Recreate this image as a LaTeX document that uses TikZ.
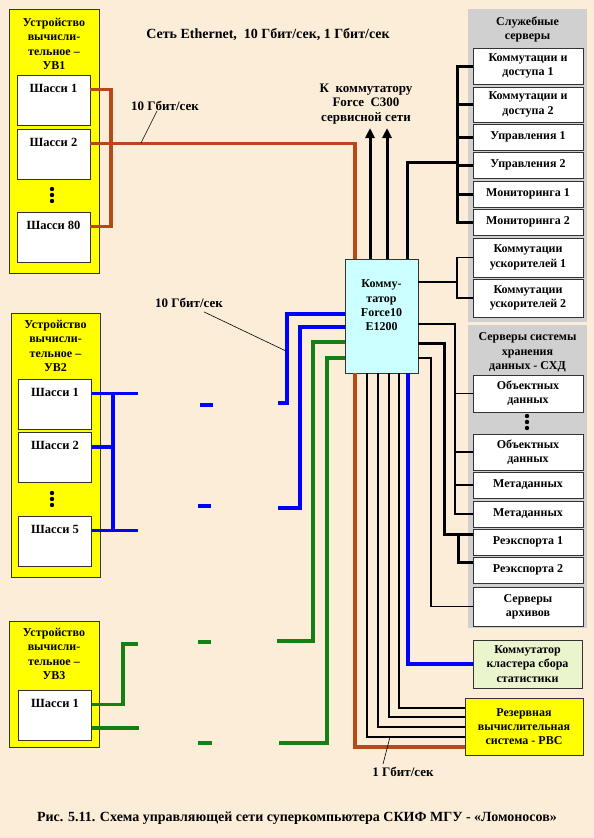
\documentclass[tikz,border=0pt]{standalone}
\usepackage{fontspec}
\setmainfont{Liberation Serif}
\usepackage{tikz}
\usetikzlibrary{arrows.meta}
\definecolor{bgpeach}  {RGB}{252,237,216}
\definecolor{pgray}    {RGB}{208,208,208}
\definecolor{kbrown}   {RGB}{184,72,24}
\definecolor{kblue}    {RGB}{0,0,255}
\definecolor{kgreen}   {RGB}{20,128,20}
\definecolor{scyan}    {RGB}{204,255,255}
\definecolor{sgreen}   {RGB}{235,245,205}
\definecolor{uyellow}  {RGB}{255,255,0}
\tikzset{
    txt/.style={font=\bfseries\fontsize{12}{14.3}\selectfont, align=center, inner sep=0pt},
    bigtxt/.style={font=\bfseries\fontsize{14}{16}\selectfont, align=center, inner sep=0pt},
    rate/.style={font=\bfseries\fontsize{13}{15}\selectfont, inner sep=0pt},
    unit/.style={draw=black!80, fill=uyellow, line width=0.8pt},
    chassis/.style={draw=black!80, fill=white, line width=0.8pt, inner sep=0pt,
             minimum width=73pt, text height=17pt, text depth=33pt,
             font=\bfseries\fontsize{12.5}{14.3}\selectfont},
    server/.style={draw=black!80, fill=white, line width=0.8pt, minimum width=110pt,
             minimum height=26pt, inner sep=1pt, align=center,
             font=\bfseries\fontsize{12}{14.3}\selectfont},
    panel/.style={fill=pgray, inner sep=0pt},
    tengig/.style={draw=kbrown, line width=3.5pt},
    bluelink/.style={draw=kblue, line width=3.5pt},
    greenlink/.style={draw=kgreen, line width=3.5pt},
    svclink/.style={draw=black, line width=3pt},
    gig/.style={draw=black, line width=1.3pt},
    upline/.style={draw=black, line width=3pt, -{Triangle[width=9pt,length=10pt]}},
    leader/.style={draw=black, line width=0.6pt}
  }

\begin{document}
\begin{tikzpicture}[x=1pt,y=-1pt]
 \useasboundingbox (0,0) rectangle (594,838);
 \fill[bgpeach] (0,0) rectangle (594,838);
 %Title
     \node[bigtxt] (title) at (268,35) {Сеть Ethernet,\ \ 10 Гбит/сек, 1 Гбит/сек};
 %UV1
     \node[unit, minimum width=90pt, minimum height=264pt] (uv1) at (54,141) {};
     \node[txt, anchor=north] (uv1t) at (54,18) {Устройство\\вычисли-\\тельное –\\УВ1};
     \node[chassis] (uv1c1) at (53.5,100) {Шасси 1};
     \node[chassis] (uv1c2) at (53.5,154) {Шасси 2};
     \node[chassis] (uv1c3) at (53.5,237) {Шасси 80};
     \foreach \y in {189,195,201} \fill (52,\y) circle (2.2pt);
 %UV2
     \node[unit, minimum width=89pt, minimum height=264pt] (uv2) at (55.5,445) {};
     \node[txt, anchor=north] (uv2t) at (55.5,320) {Устройство\\вычисли-\\тельное –\\УВ2};
     \node[chassis] (uv2c1) at (55,404) {Шасси 1};
     \node[chassis] (uv2c2) at (55,457.5) {Шасси 2};
     \node[chassis] (uv2c3) at (55,541) {Шасси 5};
     \foreach \y in {493,499,505} \fill (52,\y) circle (2.2pt);
 %UV3
     \node[unit, minimum width=90pt, minimum height=126pt] (uv3) at (54,684) {};
     \node[txt, anchor=north] (uv3t) at (54,628) {Устройство\\вычисли-\\тельное –\\УВ3};
     \node[chassis] (uv3c1) at (55,715) {Шасси 1};
 %Switch Force10
     \node[draw=black!80, fill=scyan, line width=0.8pt, minimum width=73pt, minimum height=114pt] (sw) at (381.5,316) {};
     \node[txt] (swt) at (381.5,305.5) {Комму-\\татор\\Force10\\E1200};
     \node[txt, font=\bfseries\fontsize{13}{14.3}\selectfont] (c300) at (366,104) {К\ \ коммутатору\\Force\ \ C300\\сервисной сети};
 %Service servers
     \node[panel, minimum width=119pt, minimum height=313pt] (svcp) at (527.5,165.5) {};
     \node[txt] (svcpt) at (527.5,29.5) {Служебные\\серверы};
     \node[server, minimum height=36pt] (svc1) at (528,66) {Коммутации и\\доступа 1};
     \node[server, minimum height=35pt] (svc2) at (528,104.5) {Коммутации и\\доступа 2};
     \node[server] (svc3) at (528,137) {Управления 1};
     \node[server] (svc4) at (528,165) {Управления 2};
     \node[server] (svc5) at (528,194) {Мониторинга 1};
     \node[server] (svc6) at (528,222) {Мониторинга 2};
     \node[server, minimum height=39pt] (acc1) at (528,257.5) {Коммутации\\ускорителей 1};
     \node[server, minimum height=38pt] (acc2) at (528,298) {Коммутации\\ускорителей 2};
 %Storage servers
     \node[panel, minimum width=119pt, minimum height=303pt] (sxdp) at (527.5,476.5) {};
     \node[txt] (sxdpt) at (527.5,352.5) {Серверы системы\\хранения\\данных - СХД};
     \node[server, minimum height=37pt] (obj1) at (528,393.5) {Объектных\\данных};
     \foreach \y in {416,422,428} \fill (527,\y) circle (2.2pt);
     \node[server, minimum height=36pt] (obj2) at (528,452) {Объектных\\данных};
     \node[server] (md1) at (528,485) {Метаданных};
     \node[server] (md2) at (528,514) {Метаданных};
     \node[server] (rex1) at (528,542) {Реэкспорта 1};
     \node[server] (rex2) at (528,570) {Реэкспорта 2};
     \node[server, minimum height=39pt] (arc) at (528,606.5) {Серверы\\архивов};
 %Statistics and RVS
     \node[server, fill=sgreen, minimum width=109pt, minimum height=48pt] (stat) at (527.5,664) {Коммутатор\\кластера сбора\\статистики};
     \node[server, fill=uyellow, minimum width=118pt, minimum height=57pt] (rvs) at (524,726.5) {Резервная\\вычислительная\\система - РВС};
 %Labels
     \node[rate] (lbl1) at (165,106) {10 Гбит/сек};
     \node[rate] (lbl2) at (189,303) {10 Гбит/сек};
     \node[rate] (lbl3) at (403,772) {1 Гбит/сек};
     \node[bigtxt] (capt) at (297,818) {Рис. 5.11. Схема управляющей сети суперкомпьютера СКИФ МГУ - «Ломоносов»};

 %UV1 -> switch, 10G
     \coordinate (uv1bus) at (111,0);
     \coordinate (brx) at (355,747);
     \draw[tengig] (uv1c1.mid east) -| (uv1bus |- uv1c3.mid east) -- (uv1c3.mid east);
     \draw[tengig] (uv1c2.mid east) -| (sw.north -| brx);
     \coordinate (ld1) at (141,143);
     \draw[leader] ([xshift=-8pt]lbl1.south) -- (ld1);
 %UV2 -> switch, 10G
     \coordinate (uv2bus) at (113,0);
     \coordinate (uv2stub) at (138,0);
     \draw[bluelink] (uv2c1.mid east) -- (uv2c1.mid east -| uv2stub);
     \draw[bluelink] (uv2bus |- uv2c1.mid east) -- (uv2bus |- uv2c3.mid east);
     \draw[bluelink] (uv2c2.mid east) -- (uv2bus |- uv2c2.mid east);
     \draw[bluelink] (uv2c3.mid east) -- (uv2c3.mid east -| uv2stub);
     \draw[bluelink] (200,405) -- (213,405);
     \draw[bluelink] (198,506) -- (211,506);
     \coordinate (bA) at (287,314);
     \coordinate (bAe) at (278,403);
     \coordinate (bB) at (300,327);
     \coordinate (bBe) at (278,508);
     \draw[bluelink] (sw.west |- bA) -- (bA) |- (bAe);
     \draw[bluelink] (sw.west |- bB) -- (bB) |- (bBe);
     \coordinate (ld2) at (286,351);
     \draw[leader] ([xshift=15pt,yshift=-4pt]lbl2.south) -- (ld2);
 %UV3 -> switch, 10G
     \coordinate (g3a) at (123,0);
     \coordinate (g3b) at (138,644);
     \coordinate (g3c) at (139,728);
     \draw[greenlink] (uv3c1.mid east) -| (g3a |- g3b) -- (g3b);
     \draw[greenlink] (uv3c1.east |- g3c) -- (g3c);
     \draw[greenlink] (198,642) -- (211,642);
     \draw[greenlink] (198,743) -- (212,743);
     \coordinate (gA) at (313,342);
     \coordinate (gAe) at (277,641);
     \coordinate (gB) at (327,358);
     \coordinate (gBe) at (279,743);
     \draw[greenlink] (sw.west |- gA) -- (gA) |- (gAe);
     \draw[greenlink] (sw.west |- gB) -- (gB) |- (gBe);
 %Up to Force C300
     \coordinate (up1) at (370,128);
     \coordinate (up2) at (387,128);
     \draw[upline] (sw.north -| up1) -- (up1);
     \draw[upline] (sw.north -| up2) -- (up2);
 %Service bus
     \coordinate (svcup) at (407,162);
     \coordinate (svcbus) at (457,162);
     \draw[svclink] (sw.north -| svcup) -- (svcup) -- (svcbus);
     \draw[svclink] (svc1.west) -| (svcbus) |- (svc6.west);
     \foreach \s in {svc2,svc3,svc4,svc5} \draw[svclink] (\s.west) -- (\s.west -| svcbus);
 %Accelerators
     \coordinate (accbus) at (457,282);
     \draw[gig] (sw.east |- accbus) -- (accbus);
     \draw[gig] (acc1.west) -| (accbus) |- (acc2.west);
 %Object and meta data
     \coordinate (objbus) at (455,324);
     \draw[gig] (sw.east |- objbus) -- (objbus) |- (md2.west);
     \foreach \s in {obj1,obj2,md1} \draw[gig] (\s.west) -- (\s.west -| objbus);
 %Reexport
     \coordinate (rexbus) at (444,343);
     \coordinate (ra) at (458,534);
     \coordinate (rb) at (458,562);
     \draw[svclink] (sw.east |- rexbus) -- (rexbus) |- (rex1.west |- ra);
     \draw[svclink] (ra) |- (rex2.west |- rb);
 %Archive
     \coordinate (arcbus) at (431,358);
     \draw[gig] (sw.east |- arcbus) -- (arcbus) |- (arc.west);
 %Statistics, 10G
     \coordinate (stx) at (408,665);
     \draw[bluelink] (sw.south -| stx) |- (stat.west);
 %RVS, 1G and 10G
     \coordinate (rv1) at (399,708);
     \coordinate (rv2) at (389,717);
     \coordinate (rv3) at (378,727);
     \coordinate (rv4) at (367,737);
     \foreach \c in {rv1,rv2,rv3,rv4} \draw[gig] (sw.south -| \c) |- (rvs.west |- \c);
     \draw[tengig] (sw.south -| brx) |- (rvs.west |- brx);
     \coordinate (ld3) at (390,737);
     \draw[leader] ([xshift=-20pt,yshift=3pt]lbl3.north) -- (ld3);
\end{tikzpicture}
\end{document}
